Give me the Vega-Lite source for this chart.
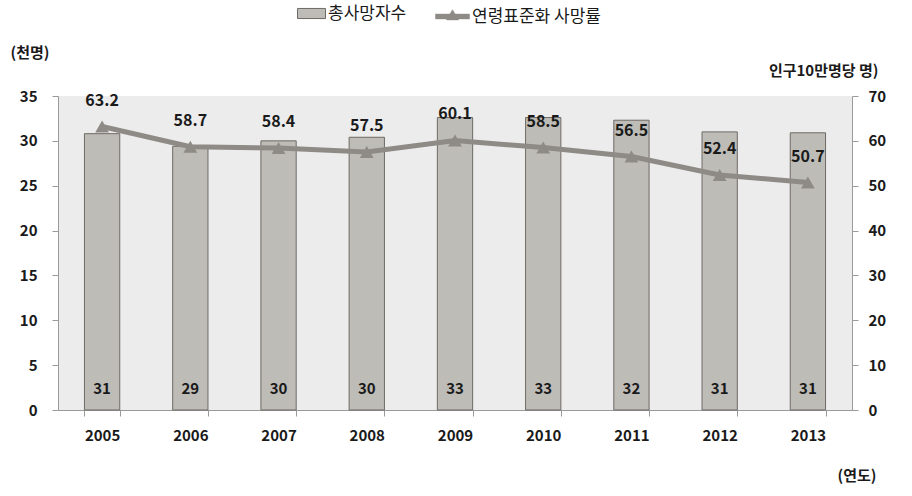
{
  "$schema": "https://vega.github.io/schema/vega-lite/v6.json",
  "autosize": "none",
  "width": 794,
  "height": 314,
  "padding": {"left": 58, "top": 96, "right": 60, "bottom": 86},
  "background": "white",
  "config": {
    "view": {"fill": "#ececec", "stroke": null},
    "font": "Noto Sans CJK KR",
    "legend": {
      "labelFont": "Noto Sans CJK KR",
      "labelFontSize": 17,
      "labelColor": "#1a1a1a",
      "labelOffset": 2,
      "title": null,
      "orient": "none"
    },
    "axis": {
      "labelFont": "Noto Sans CJK KR",
      "labelFontWeight": "bold",
      "labelFontSize": 15,
      "labelColor": "#1a1a1a",
      "titleFont": "Noto Sans CJK KR",
      "titleFontWeight": "bold",
      "titleFontSize": 15,
      "titleColor": "#1a1a1a",
      "domainColor": "#9a9a9a",
      "tickColor": "#9a9a9a",
      "grid": false
    }
  },
  "data": {
    "values": [
      {"year": "2005", "deaths": 30.8, "rate": 63.2},
      {"year": "2006", "deaths": 29.4, "rate": 58.7},
      {"year": "2007", "deaths": 30.0, "rate": 58.4},
      {"year": "2008", "deaths": 30.4, "rate": 57.5},
      {"year": "2009", "deaths": 32.6, "rate": 60.1},
      {"year": "2010", "deaths": 32.6, "rate": 58.5},
      {"year": "2011", "deaths": 32.3, "rate": 56.5},
      {"year": "2012", "deaths": 31.0, "rate": 52.4},
      {"year": "2013", "deaths": 30.9, "rate": 50.7}
    ]
  },
  "encoding": {
    "x": {
      "field": "year",
      "type": "ordinal",
      "scale": {"paddingInner": 0.6, "paddingOuter": 0.3},
      "axis": {
        "labelAngle": 0,
        "tickBand": "extent",
        "tickSize": 6,
        "labelPadding": 12,
        "title": "(연도)",
        "titleAngle": 0,
        "titleAlign": "right",
        "titleBaseline": "middle",
        "titleX": 818,
        "titleY": 65
      }
    }
  },
  "layer": [
    {
      "layer": [
        {
          "mark": {"type": "bar", "stroke": "#6e6a66", "strokeWidth": 1},
          "encoding": {
            "y": {
              "field": "deaths",
              "type": "quantitative",
              "scale": {"domain": [0, 35]},
              "axis": {
                "values": [0, 5, 10, 15, 20, 25, 30, 35],
                "tickSize": 6,
                "labelPadding": 15,
                "title": "(천명)",
                "titleAngle": 0,
                "titleAlign": "left",
                "titleBaseline": "middle",
                "titleX": -48,
                "titleY": -44
              }
            },
            "fill": {
              "datum": "총사망자수",
              "type": "nominal",
              "scale": {"range": ["#bebcb7"]},
              "legend": {
                "orient": "none",
                "legendX": 239,
                "legendY": -97,
                "symbolType": "M-1,-0.36H1V0.36H-1Z",
                "symbolSize": 784,
                "symbolStrokeColor": "#6e6a66",
                "symbolStrokeWidth": 1
              }
            }
          }
        },
        {
          "mark": {"type": "text", "dy": -21, "fontSize": 15, "fontWeight": "bold", "color": "#1a1a1a", "font": "Noto Sans CJK KR"},
          "encoding": {
            "y": {"datum": 0, "type": "quantitative"},
            "text": {"field": "deaths", "type": "quantitative", "format": ".0f"}
          }
        }
      ]
    },
    {
      "layer": [
        {
          "mark": {"type": "line", "strokeWidth": 5},
          "encoding": {
            "y": {
              "field": "rate",
              "type": "quantitative",
              "scale": {"domain": [0, 70]},
              "axis": {
                "orient": "right",
                "values": [0, 10, 20, 30, 40, 50, 60, 70],
                "tickSize": 6,
                "labelPadding": 10,
                "title": "인구10만명당 명)",
                "titleAngle": 0,
                "titleAlign": "right",
                "titleBaseline": "middle",
                "titleX": 26,
                "titleY": -26
              }
            },
            "stroke": {
              "datum": "연령표준화 사망률",
              "type": "nominal",
              "scale": {"range": ["#8e8b87"]},
              "legend": {
                "orient": "none",
                "legendX": 377,
                "legendY": -97,
                "symbolType": "M-1,-0.14H1V0.14H-1Z M-0.36,0.2L0,-0.4L0.36,0.2Z",
                "symbolSize": 1156,
                "symbolFillColor": "#8e8b87",
                "symbolStrokeColor": "#8e8b87",
                "symbolStrokeWidth": 0.5,
                "encode": {"symbols": {"update": {"fill": {"value": "#8e8b87"}, "fillOpacity": {"value": 1}}}}
              }
            }
          }
        },
        {
          "mark": {"type": "point", "shape": "triangle-up", "filled": true, "size": 190, "opacity": 1, "color": "#8e8b87"},
          "encoding": {
            "y": {"field": "rate", "type": "quantitative"}
          }
        },
        {
          "mark": {"type": "text", "dy": -26, "fontSize": 16, "fontWeight": "bold", "color": "#1a1a1a", "font": "Noto Sans CJK KR"},
          "encoding": {
            "y": {"field": "rate", "type": "quantitative"},
            "text": {"field": "rate", "type": "quantitative", "format": ".1f"}
          }
        }
      ]
    }
  ],
  "resolve": {"scale": {"y": "independent"}}
}
